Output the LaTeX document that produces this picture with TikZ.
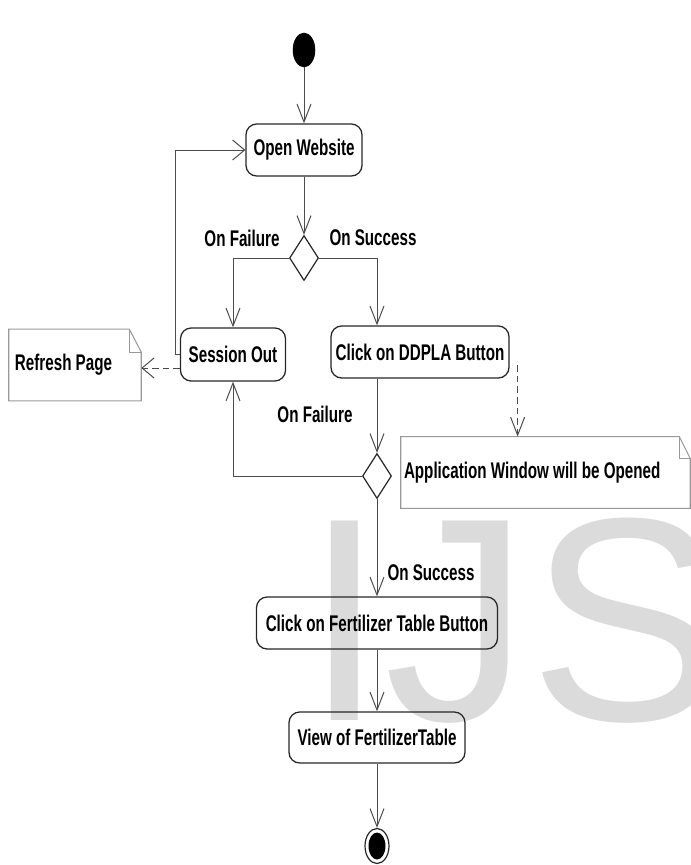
\documentclass[tikz,border=0pt]{standalone}
\usepackage{fontspec}
\newfontfamily\lblfont{Liberation Sans}[FakeStretch=0.67]
\newfontfamily\wmfont{Liberation Sans}
\usetikzlibrary{shapes.geometric,arrows.meta,calc}
\tikzset{
  txt/.style={font=\lblfont\bfseries\fontsize{17pt}{20pt}\selectfont, text=black},
  act/.style={txt, draw=black!85, line width=0.95pt, rounded corners=8pt, inner sep=0pt},
  dec/.style={diamond, draw=black!85, line width=0.9pt, minimum width=21.75pt, minimum height=33.75pt, inner sep=0pt},
  lbl/.style={txt, inner sep=0pt},
  notebox/.style={txt, inner ysep=0pt, align=flush left, minimum height=53.5pt},
  noteline/.style={draw=black!40, line width=0.8pt},
  flow/.style={draw=black!70, line width=0.75pt, -{Straight Barb[length=13.5pt,width=10.5pt]}},
  hflow/.style={draw=black!70, line width=0.75pt, -{Straight Barb[length=9pt,width=15pt]}},
  dashline/.style={dash pattern=on 5pt off 3pt},
  wm/.style={anchor=base west, inner sep=0pt, text=black!14, font=\wmfont\fontsize{217.5pt}{220pt}\selectfont}
}
\begin{document}
\begin{tikzpicture}[x=0.75pt,y=-0.75pt]
\useasboundingbox (0,0) rectangle (691,865);
\begin{scope}
  \clip (0,0) rectangle (691,865);
  \node[wm] (wmark) at (304,720) {IJS};
\end{scope}

% activity nodes
\node[ellipse, fill=black, draw=black, minimum width=16.5pt, minimum height=25.5pt, inner sep=0pt] (start) at (304,50) {};
\node[act, minimum width=87pt, minimum height=39pt] (open) at (304,150) {Open Website};
\node[dec] (d1) at (304,258) {};
\node[act, minimum width=78.75pt, minimum height=39.75pt] (sess) at (233,354.5) {Session Out};
\node[act, minimum width=133.5pt, minimum height=39pt] (ddpla) at (420,352) {Click on DDPLA Button};
\node[dec] (d2) at (377,476) {};
\node[act, minimum width=180.75pt, minimum height=39pt] (fert) at (377,623) {Click on Fertilizer Table Button};
\node[act, minimum width=132pt, minimum height=38.25pt] (view) at (377,737.5) {View of FertilizerTable};
\node[ellipse, draw=black!85, line width=0.9pt, minimum width=18pt, minimum height=26.25pt, inner sep=0pt] (end) at (377,846) {};
\fill[black] (end.center) ellipse [x radius=8.5, y radius=13.5];

% notes
\node[notebox, inner xsep=4.5pt, text width=90pt] (refresh) at (75,365) {Refresh Page};
\draw[noteline] (refresh.north west) -- ($(refresh.north east)+(-12,0)$) -- ($(refresh.north east)+(0,23)$) -- (refresh.south east) -- (refresh.south west) -- cycle;
\draw[noteline] ($(refresh.north east)+(-12,0)$) -- ($(refresh.north east)+(-12,23)$) -- ($(refresh.north east)+(0,23)$);

\node[notebox, inner xsep=2.25pt, text width=212.25pt] (app) at (545.5,472.5) {Application Window will be Opened};
\draw[noteline] (app.north west) -- ($(app.north east)+(-11,0)$) -- ($(app.north east)+(0,22)$) -- (app.south east) -- (app.south west) -- cycle;
\draw[noteline] ($(app.north east)+(-11,0)$) -- ($(app.north east)+(-11,22)$) -- ($(app.north east)+(0,22)$);

% guard labels
\node[lbl] (lf1) at (242,238) {On Failure};
\node[lbl] (ls1) at (373,238) {On Success};
\node[lbl] (lf2) at (315,414) {On Failure};
\node[lbl] (ls2) at (431,573) {On Success};

% connectors
\draw[flow] (start) -- (open);
\draw[flow] (open) -- (d1);
\draw[flow] (d1.west) -| (sess.north);
\draw[flow] (d1.east) -| (ddpla.north -| d2.north);
\draw[flow] (ddpla.south -| d2.north) -- (d2.north);
\draw[flow] (d2.west) -| (sess.south);
\draw[flow] (d2.south) -- (d2.south |- fert.north);
\draw[flow] (fert) -- (view);
\draw[flow] (view) -- (end);
\draw[hflow] (sess.west) -- ++(-4,0) |- (open.west);
\coordinate (sx) at ($(sess.west)+(0,13.5)$);
\draw[hflow, dashline] (sx) -- (sx -| refresh.east);
\coordinate (dx) at ($(ddpla.east)+(8,13)$);
\draw[flow, dashline] (dx) -- (dx |- app.north);
\end{tikzpicture}
\end{document}
